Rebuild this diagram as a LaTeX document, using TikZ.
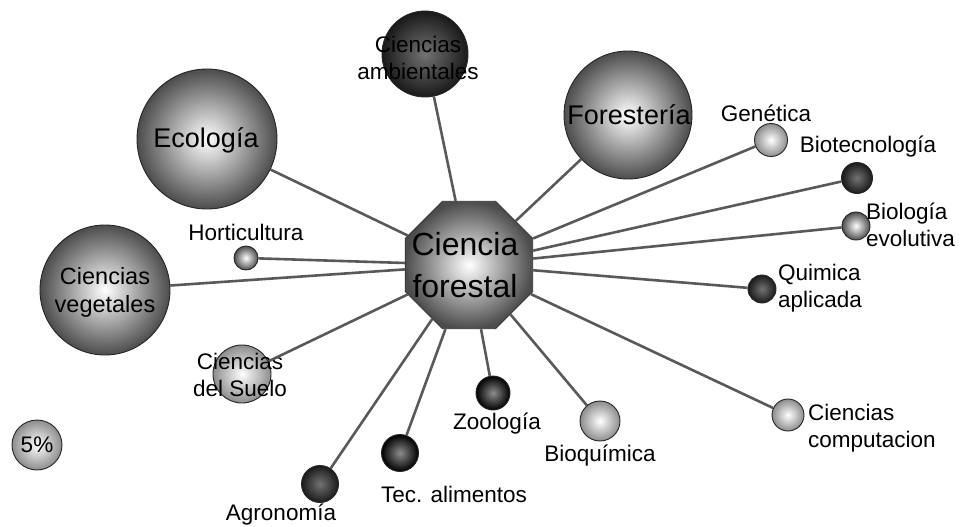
\documentclass[tikz,border=0pt]{standalone}
\usepackage{fontspec}
\setmainfont{Liberation Sans}
\usetikzlibrary{shapes.geometric}

\begin{document}
\begin{tikzpicture}[x=1pt,y=-1pt]
	\tikzstyle{every node}+=[inner sep=0pt]
	\tikzstyle{ball}=[circle, draw=black!85, line width=0.9pt, shading=radial]
	\tikzstyle{light}=[ball, inner color=white, outer color=black!45]
	\tikzstyle{mid}=[ball, inner color=white, outer color=black!70]
	\tikzstyle{dark}=[ball, inner color=black!55, outer color=black!90]
	\tikzstyle{deep}=[ball, inner color=black!45, outer color=black]
	\tikzstyle{link}=[draw=black!65, line width=2.6pt]
	\tikzstyle{lbl}=[font=\fontsize{22.5}{27}\selectfont, align=center]
	\tikzstyle{big}=[font=\fontsize{27}{30}\selectfont, align=center]
	\useasboundingbox (0,0) rectangle (962,527);
	% centre
	\node [regular polygon, regular polygon sides=8,
		minimum size=138pt, draw=black!80, line width=0.9pt, shading=radial,
		inner color=white, outer color=black!70] (cf) at (469,265) {};
	\node [font=\fontsize{32}{42}\selectfont, align=center] (cftext) at (465,265) {Ciencia\\forestal};
	% large balls
	\node [dark, minimum size=86pt] (amb) at (425,54) {};
	\node [lbl] (ambtext) at (418,58) {Ciencias\\ambientales};
	\node [mid, minimum size=140pt] (eco) at (207,139) {};
	\node [big] (ecotext) at (206,140) {Ecología};
	\node [mid, minimum size=128pt] (fore) at (628,115) {};
	\node [big] (foretext) at (629,115) {Forestería};
	\node [mid, minimum size=130pt] (veg) at (105,290) {};
	\node [lbl, font=\fontsize{23.5}{28}\selectfont] (vegtext) at (105,292) {Ciencias\\vegetales};
	% small balls, left
	\node [mid, minimum size=24pt] (hort) at (246,258) {};
	\node [lbl] (horttext) at (246,232) {Horticultura};
	\node [light, minimum size=58pt] (suelo) at (242,374) {};
	\node [lbl] (suelotext) at (240,375) {Ciencias\\del Suelo};
	\node [light, minimum size=50pt, lbl] (pct) at (37,445) {5\%};
	% small balls, right
	\node [light, minimum size=33pt] (gen) at (771,140) {};
	\node [lbl] (gentext) at (766,113) {Genética};
	\node [dark, minimum size=31pt] (biotec) at (857,178) {};
	\node [lbl] (biotectext) at (868,147) {Biotecnología};
	\node [mid, minimum size=28pt] (bioevo) at (856,226) {};
	\node [lbl, align=left, anchor=west] (bioevotext) at (866,225) {Biología\\evolutiva};
	\node [dark, minimum size=28pt] (quim) at (762,289) {};
	\node [lbl, align=left, anchor=west] (quimtext) at (778,288) {Quimica\\aplicada};
	\node [light, minimum size=32pt] (comp) at (788,415) {};
	\node [lbl, align=left, anchor=west] (comptext) at (808,428) {Ciencias\\computacion};
	% small balls, bottom
	\node [light, minimum size=40pt] (bioq) at (600,421) {};
	\node [lbl] (bioqtext) at (600,456) {Bioquímica};
	\node [deep, minimum size=34pt] (zoo) at (493,393) {};
	\node [lbl] (zootext) at (497,424) {Zoología};
	\node [deep, minimum size=37pt] (tec) at (400,453) {};
	\node [lbl] (tectext) at (454,494) {Tec. alimentos};
	\node [dark, minimum size=37pt] (agro) at (320,484) {};
	\node [lbl] (agrotext) at (281,515) {Agronomía};
	% links
	\draw [link] (cf) -- (amb);
	\draw [link] (cf) -- (eco);
	\draw [link] (cf) -- (fore);
	\draw [link] (cf) -- (veg);
	\draw [link] (cf) -- (hort);
	\draw [link] (cf) -- (suelo);
	\draw [link] (cf) -- (gen);
	\draw [link] (cf) -- (biotec);
	\draw [link] (cf) -- (bioevo);
	\draw [link] (cf) -- (quim);
	\draw [link] (cf) -- (comp);
	\draw [link] (cf) -- (bioq);
	\draw [link] (cf) -- (zoo);
	\draw [link] (cf) -- (tec);
	\draw [link] (cf) -- (agro);
\end{tikzpicture}
\end{document}
